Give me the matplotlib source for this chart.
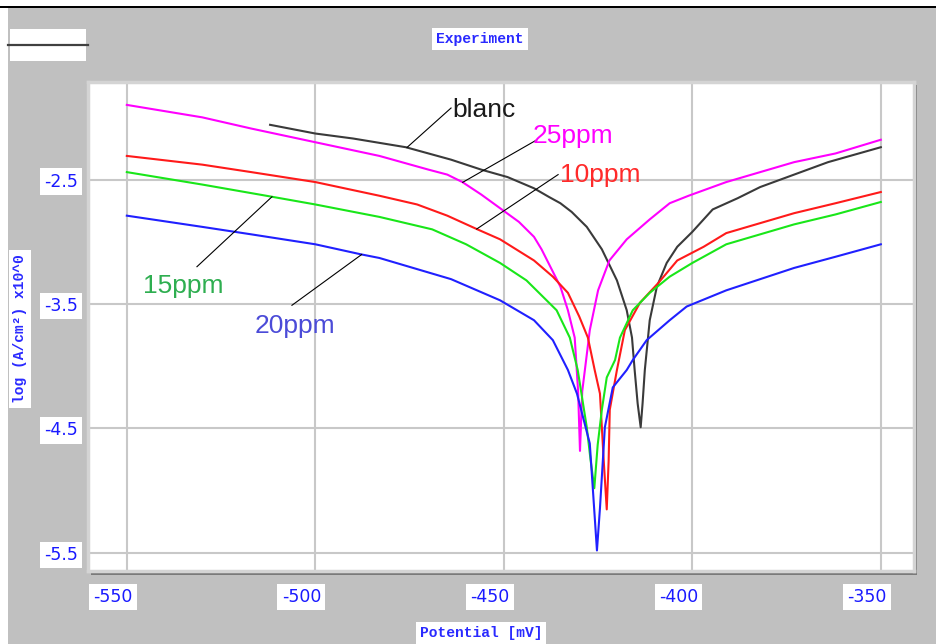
import numpy as np
import matplotlib
matplotlib.use("Agg")
import matplotlib.pyplot as plt
import matplotlib.transforms as mtransforms
from matplotlib.patches import Rectangle
from matplotlib.lines import Line2D

# polarisation curves: potential (mV) vs log current density
blanc_mv = [-512, -500, -490, -476, -464, -456, -449, -442, -438, -435, -432, -428, -424,
            -420, -417.4, -416, -415.3, -414.5, -413.7, -413.2, -412.6, -411.3, -409.4,
            -406.8, -404, -400, -394.6, -388, -382, -373, -364, -357, -350]
blanc_log = [-2.06, -2.13, -2.17, -2.24, -2.34, -2.42, -2.48, -2.57, -2.64, -2.69, -2.76,
             -2.88, -3.06, -3.31, -3.55, -3.77, -4.03, -4.30, -4.49, -4.30, -4.03, -3.63,
             -3.36, -3.17, -3.04, -2.92, -2.74, -2.65, -2.56, -2.46, -2.36, -2.30, -2.24]

ppm25_mv = [-550, -540, -530, -517, -500, -483, -470, -465, -461, -456, -451, -446, -442,
            -440, -438, -435, -433, -431.2, -430.3, -429.8, -429.2, -428.5, -427.2, -425,
            -422, -417.4, -411.3, -406, -401, -391, -382, -373, -362, -350]
ppm25_log = [-1.90, -1.95, -2.00, -2.09, -2.20, -2.31, -2.42, -2.46, -2.52, -2.62, -2.73,
             -2.84, -2.96, -3.06, -3.18, -3.36, -3.55, -3.77, -4.20, -4.68, -4.20, -4.03,
             -3.71, -3.39, -3.15, -2.98, -2.82, -2.69, -2.63, -2.52, -2.44, -2.36, -2.29,
             -2.18]

ppm10_mv = [-550, -530, -517, -500, -483, -473, -465, -457, -451, -442, -437, -433, -430,
            -427.7, -425.9, -424.5, -423.5, -422.7, -422.2, -421.9, -420, -417.9, -413.9,
            -409, -404, -397, -391, -382, -373, -362, -350]
ppm10_log = [-2.31, -2.38, -2.44, -2.52, -2.63, -2.70, -2.79, -2.90, -2.98, -3.15, -3.28,
             -3.41, -3.60, -3.77, -4.03, -4.22, -4.76, -5.15, -4.76, -4.35, -4.03, -3.71,
             -3.49, -3.33, -3.15, -3.04, -2.93, -2.85, -2.77, -2.69, -2.60]

ppm15_mv = [-550, -530, -513, -500, -483, -469, -460, -451, -444, -436, -432.5, -430.4, -428,
            -427, -426, -425.1, -424, -422.7, -420.5, -419.2, -415.8, -411.3, -406, -400,
            -391, -382, -373, -362, -350]
ppm15_log = [-2.44, -2.54, -2.63, -2.70, -2.80, -2.90, -3.02, -3.17, -3.31, -3.55, -3.77,
             -4.03, -4.49, -4.75, -4.98, -4.63, -4.35, -4.09, -3.95, -3.77, -3.55, -3.41,
             -3.28, -3.17, -3.02, -2.94, -2.86, -2.78, -2.68]

ppm20_mv = [-550, -530, -517, -500, -488, -483, -464, -451, -442, -437, -433, -430.6, -427.2,
            -426.4, -425.3, -424.5, -423.2, -421.1, -417.4, -415.8, -412.1, -406, -401.5,
            -391, -382, -373, -362, -350]
ppm20_log = [-2.79, -2.88, -2.94, -3.02, -3.10, -3.13, -3.30, -3.47, -3.63, -3.79, -4.03,
             -4.22, -4.62, -4.98, -5.48, -5.14, -4.49, -4.17, -4.03, -3.95, -3.79, -3.63,
             -3.52, -3.39, -3.30, -3.21, -3.12, -3.02]

x_ticks = [-550, -500, -450, -400, -350]
y_ticks = [-2.5, -3.5, -4.5, -5.5]

# (name, potentials, logs, line colour, label colour, label pos, leader start, leader end mV)
series = [
    ("blanc", blanc_mv, blanc_log, "#3a3a3a", "#1a1a1a", (-463.6, -2.00), (-464.0, -1.925), -475.7),
    ("25ppm", ppm25_mv, ppm25_log, "#ff00ff", "#ff00ff", (-442.3, -2.21), (-441.2, -2.18), -460.9),
    ("10ppm", ppm10_mv, ppm10_log, "#ff1a1a", "#ff2a2a", (-435.1, -2.52), (-435.6, -2.46), -457.2),
    ("15ppm", ppm15_mv, ppm15_log, "#19e619", "#2eae50", (-545.8, -3.41), (-531.4, -3.20), -511.5),
    ("20ppm", ppm20_mv, ppm20_log, "#2020ff", "#4b4bd8", (-516.0, -3.73), (-506.2, -3.51), -487.7),
]

W, H = 937, 644
fig = plt.figure(figsize=(W / 100, H / 100), dpi=100, facecolor="#c0c0c0")

def px_rect(x0, y0, x1, y1, **kw):
    return Rectangle((x0 / W, 1 - y1 / H), (x1 - x0) / W, (y1 - y0) / H,
                     transform=fig.transFigure, **kw)

# window edges
fig.patches.append(px_rect(0, 0, W, 6, facecolor="white", edgecolor="none", zorder=0))
fig.patches.append(px_rect(0, 6, W, 8, facecolor="black", edgecolor="none", zorder=0))
fig.patches.append(px_rect(0, 8, 8, H, facecolor="white", edgecolor="none", zorder=0))

# legend stub
fig.patches.append(px_rect(10, 29, 86, 61, facecolor="white", edgecolor="none", zorder=1))
fig.lines.append(Line2D([8 / W, 88 / W], [1 - 45 / H, 1 - 45 / H], transform=fig.transFigure,
                        color="#404040", lw=1.6, zorder=2))

# plot frame shadow
fig.patches.append(px_rect(91, 85, 917, 575, facecolor="#7a7a7a", edgecolor="none", zorder=0))

ax = fig.add_axes([88 / W, 1 - 571 / H, (914 - 88) / W, (571 - 82) / H])
ax.set_zorder(3)
ax.set_facecolor("white")
ax.set_xlim(-560.3, -341.2)
ax.set_ylim(-5.645, -1.716)

for name, mv, lg, lc, tc, tpos, lstart, lend in series:
    ax.plot(mv, lg, color=lc, lw=1.5, zorder=3)
    ax.text(tpos[0], tpos[1], name, color=tc, fontsize=19, family="Liberation Sans",
            ha="left", va="baseline", zorder=5)
    ax.plot([lstart[0], lend], [lstart[1], np.interp(lend, mv, lg)],
            color="black", lw=0.8, zorder=4)

ax.set_xticks(x_ticks)
ax.set_yticks(y_ticks)
ax.set_xticklabels([str(v) for v in x_ticks])
ax.set_yticklabels([str(v) for v in y_ticks])
ax.grid(True, color="#c8c8c8", lw=1.5, zorder=1)
ax.set_axisbelow(True)
ax.tick_params(axis="x", length=0, pad=12, labelsize=12.5, labelcolor="#1a1aff")
ax.tick_params(axis="y", length=0, pad=7, labelsize=12.5, labelcolor="#1a1aff")
for lab in ax.get_xticklabels() + ax.get_yticklabels():
    lab.set_bbox(dict(facecolor="white", edgecolor="none", pad=3))
# x labels sit a little left of their grid lines
shift = mtransforms.ScaledTranslation(-14 / 100, 0, fig.dpi_scale_trans)
for lab in ax.get_xticklabels():
    lab.set_transform(lab.get_transform() + shift)
for sp in ax.spines.values():
    sp.set_color("#d4d4d4")
    sp.set_linewidth(2.5)

box = dict(facecolor="white", edgecolor="none", pad=3)
mono = dict(family="Liberation Mono", fontweight="bold", fontsize=10.5, color="#2a2aff")
fig.text(480 / W, 1 - 39 / H, "Experiment", ha="center", va="center", bbox=box, **mono)
fig.text(481 / W, 1 - 633 / H, "Potential [mV]", ha="center", va="center", bbox=box, **mono)
fig.text(20 / W, 1 - 329 / H, "log (A/cm²) x10^0", ha="center", va="center",
         rotation=90, bbox=box, **mono)

fig.savefig("out.png", dpi=100, facecolor=fig.get_facecolor())
